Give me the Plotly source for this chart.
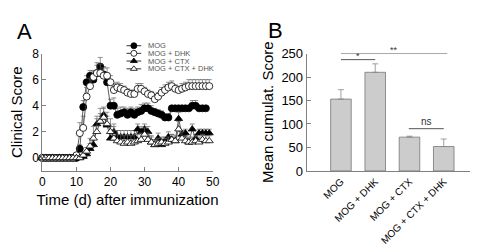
import plotly.graph_objects as go

# ---------------- Panel A data ----------------
days = list(range(0, 50))
mog = [0]*11 + [0.7, 3.9, 5.8, 6.3, 6.0, 6.5, 7.0, 6.4, 5.8, 4.0, 4.0, 3.3, 3.4, 3.5, 3.3, 3.5, 3.3, 3.5, 3.6,
                3.8, 3.8, 3.6, 3.5, 3.4, 3.3, 3.1, 3.1, 3.8, 3.8, 3.8, 3.8, 3.8, 3.8, 4.0, 4.0, 3.8, 3.8, 3.8]
mog_err = [0]*11 + [0.3, 0.5, 0.5, 0.4, 0.6, 0.6, 0.7, 0.6, 0.6, 0.5, 0.6, 0.5, 0.5, 0.4, 0.5, 0.4, 0.5, 0.4, 0.5,
                    0.4, 0.4, 0.4, 0.3, 0.3, 0.3, 0.3, 0.3, 0.0, 0.0, 0.0, 0.0, 0.0, 0.0, 0.4, 0.4, 0.0, 0.0, 0.0]
dhk = [0]*10 + [0.2, 1.9, 2.3, 4.7, 5.5, 6.2, 6.5, 6.5, 6.3, 6.3, 5.8, 5.2, 5.4, 5.3, 5.2, 5.0, 4.9, 4.9, 5.3, 5.3,
                5.1, 4.9, 4.8, 4.5, 4.7, 5.0, 5.2, 5.4, 5.5, 5.3, 5.2, 5.3, 5.4, 5.5, 5.5, 5.5, 5.5, 5.5, 5.5, 5.5]
dhk_err = [0]*10 + [0.1, 0.8, 0.9, 0.7, 0.6, 0.5, 0.8, 0.7, 0.6, 0.6, 0.5, 0.5, 0.4, 0.4, 0.3, 0.3, 0.3, 0.3, 0.4, 0.4,
                    0.3, 0.3, 0.3, 0.3, 0.3, 0.4, 0.4, 0.4, 0.4, 0.3, 0.3, 0.4, 0.4, 0.5, 0.5, 0.5, 0.5, 0.5, 0.5, 0.5]
ctx = [0]*12 + [0.1, 0.3, 0.7, 1.0, 2.6, 2.8, 3.3, 2.5, 1.5, 2.0, 1.6, 1.6, 1.6, 1.6, 1.6, 1.6, 2.2, 2.0, 2.2,
                2.0, 1.2, 1.0, 1.5, 1.0, 1.3, 1.6, 1.4, 1.3, 3.0, 1.8, 1.9, 1.2, 2.2, 1.5, 1.9, 1.9, 1.9, 1.9]
ctx_err = [0]*12 + [0.1, 0.2, 0.4, 0.6, 0.6, 0.6, 0.5, 0.7, 0.9, 0.6, 0.5, 0.5, 0.5, 0.5, 0.5, 0.5, 0.4, 0.4, 0.4,
                    0.4, 0.4, 0.4, 0.4, 0.4, 0.3, 0.4, 0.4, 0.3, 0.5, 0.3, 0.3, 0.3, 0.4, 0.3, 0.3, 0.3, 0.3, 0.3]
ctxdhk = [0]*12 + [0.2, 0.5, 0.9, 1.5, 2.0, 2.8, 3.1, 2.6, 2.0, 1.5, 1.3, 1.2, 1.1, 1.2, 1.1, 1.2, 1.3, 1.4, 1.8,
                   1.4, 1.2, 1.0, 1.1, 1.2, 1.1, 1.2, 1.4, 1.3, 2.2, 1.5, 1.3, 1.2, 1.2, 1.3, 1.2, 1.4, 1.3, 1.3]
ctxdhk_err = [0]*12 + [0.2, 0.3, 0.6, 0.9, 1.0, 1.0, 0.8, 0.9, 1.0, 0.9, 0.8, 0.6, 0.6, 0.6, 0.6, 0.6, 0.5, 0.5, 0.5,
                       0.5, 0.5, 0.4, 0.4, 0.4, 0.4, 0.4, 0.4, 0.4, 0.6, 0.5, 0.4, 0.4, 0.4, 0.4, 0.4, 0.4, 0.4, 0.4]

# ---------------- Panel B data ----------------
groups = ["MOG", "MOG + DHK", "MOG + CTX", "MOG + CTX + DHK"]
cum_score = [153, 210, 72, 52]
cum_err = [20, 18, 2, 16]
x_ticks_a = [0, 10, 20, 30, 40, 50]
y_ticks_a = [0, 2, 4, 6, 8]
y_ticks_b = [0, 50, 100, 150, 200, 250]

FONT = "Arial, Liberation Sans, sans-serif"
AX = "#808080"

fig = go.Figure()

series = [
    ("MOG", mog, mog_err, "circle", "black"),
    ("MOG + DHK", dhk, dhk_err, "circle", "white"),
    ("MOG + CTX", ctx, ctx_err, "triangle-up", "black"),
    ("MOG + CTX + DHK", ctxdhk, ctxdhk_err, "triangle-up", "white"),
]
for name, vals, err, sym, fill in series:
    fig.add_trace(go.Scatter(
        x=days, y=vals, name=name, mode="lines+markers", xaxis="x", yaxis="y",
        cliponaxis=False, showlegend=False,
        line=dict(color="#333333", width=0.8),
        marker=dict(symbol=sym, size=7, color=fill, line=dict(color="black", width=0.8)),
        error_y=dict(type="data", array=err, arrayminus=[0]*len(err), symmetric=False,
                     color="#666666", thickness=0.7, width=2.5),
    ))

# compact legend drawn on a hidden pixel-space overlay axis
leg_rows = [32.7, 40.8, 49.0, 57.3]
for (name, vals, err, sym, fill), ly in zip(series, leg_rows):
    fig.add_trace(go.Scatter(
        x=[118, 133], y=[ly, ly], mode="lines", xaxis="x3", yaxis="y3", showlegend=False,
        hoverinfo="skip", line=dict(color="#333333", width=1)))
    fig.add_trace(go.Scatter(
        x=[125.5], y=[ly], mode="markers", xaxis="x3", yaxis="y3", showlegend=False,
        hoverinfo="skip",
        marker=dict(symbol=sym, size=6, color=fill, line=dict(color="black", width=0.8))))
    fig.add_annotation(xref="x3", yref="y3", x=138.5, y=ly, text=name, showarrow=False,
                       xanchor="left", yanchor="middle", borderpad=0,
                       font=dict(family=FONT, size=7.5, color="#555555"))

fig.add_trace(go.Bar(
    x=groups, y=cum_score, xaxis="x2", yaxis="y2", width=0.6, showlegend=False,
    marker=dict(color="#cccccc", line=dict(color="#777777", width=0.8)),
    error_y=dict(type="data", array=cum_err, arrayminus=[0]*4, symmetric=False,
                 color="#888888", thickness=0.8, width=3),
))

# significance brackets
sig = [(0, 3.1, 250, "**"), (0, 1, 237, "*"), (1.98, 3.0, 90, "ns")]
for x0, x1, yv, txt in sig:
    fig.add_shape(type="line", xref="x2", yref="y2", x0=x0, x1=x1, y0=yv, y1=yv,
                  line=dict(color="#555555", width=1))
    fig.add_annotation(xref="x2", yref="y2", x=(x0 + x1) / 2, y=yv, text=txt, showarrow=False,
                       yanchor="bottom", yshift=-3 if txt != "ns" else 0,
                       font=dict(family=FONT, size=9 if txt != "ns" else 10, color="#333333"))

fig.add_annotation(xref="paper", yref="paper", x=4/478, y=1 - 2/248, xanchor="left", yanchor="top",
                   text="A", showarrow=False, font=dict(family=FONT, size=22, color="black"))
fig.add_annotation(xref="paper", yref="paper", x=260/478, y=1 - 1/248, xanchor="left", yanchor="top",
                   text="B", showarrow=False, font=dict(family=FONT, size=22, color="black"))

fig.update_layout(
    width=478, height=248, margin=dict(l=0, r=0, t=0, b=0),
    paper_bgcolor="white", plot_bgcolor="rgba(0,0,0,0)",
    font=dict(family=FONT, color="black"),
    showlegend=False,
    xaxis=dict(domain=[32/478, 206/478], range=[0, 50], tickvals=x_ticks_a,
               showline=True, linecolor=AX, linewidth=1, ticks="inside", ticklen=4, tickcolor=AX,
               showgrid=False, zeroline=False, tickfont=dict(size=12),
               title=dict(text="Time (d) after immunization", font=dict(size=15), standoff=6),
               anchor="y"),
    yaxis=dict(domain=[1 - 166/248, 1 - 41/248], range=[-1, 8], tickvals=y_ticks_a,
               showline=True, linecolor=AX, linewidth=1, ticks="inside", ticklen=4, tickcolor=AX,
               showgrid=False, zeroline=False, tickfont=dict(size=12),
               title=dict(text="Clinical Score", font=dict(size=15), standoff=6),
               anchor="x"),
    xaxis2=dict(domain=[302/478, 470/478], range=[-1.0, 3.8], tickangle=-45,
                showline=True, linecolor=AX, linewidth=1, ticks="", showgrid=False, zeroline=False,
                tickfont=dict(size=10), anchor="y2"),
    yaxis2=dict(domain=[1 - 166/248, 1 - 41/248], range=[0, 250], tickvals=y_ticks_b,
                showline=True, linecolor=AX, linewidth=1, ticks="inside", ticklen=4, tickcolor=AX,
                showgrid=False, zeroline=False, tickfont=dict(size=13),
                title=dict(text="Mean cumulat. Score", font=dict(size=15), standoff=4),
                anchor="x2"),
    xaxis3=dict(domain=[0, 1], range=[0, 478], visible=False, fixedrange=True, anchor="y3"),
    yaxis3=dict(domain=[0, 1], range=[248, 0], visible=False, fixedrange=True, anchor="x3"),
)

fig.write_html("out.html")
